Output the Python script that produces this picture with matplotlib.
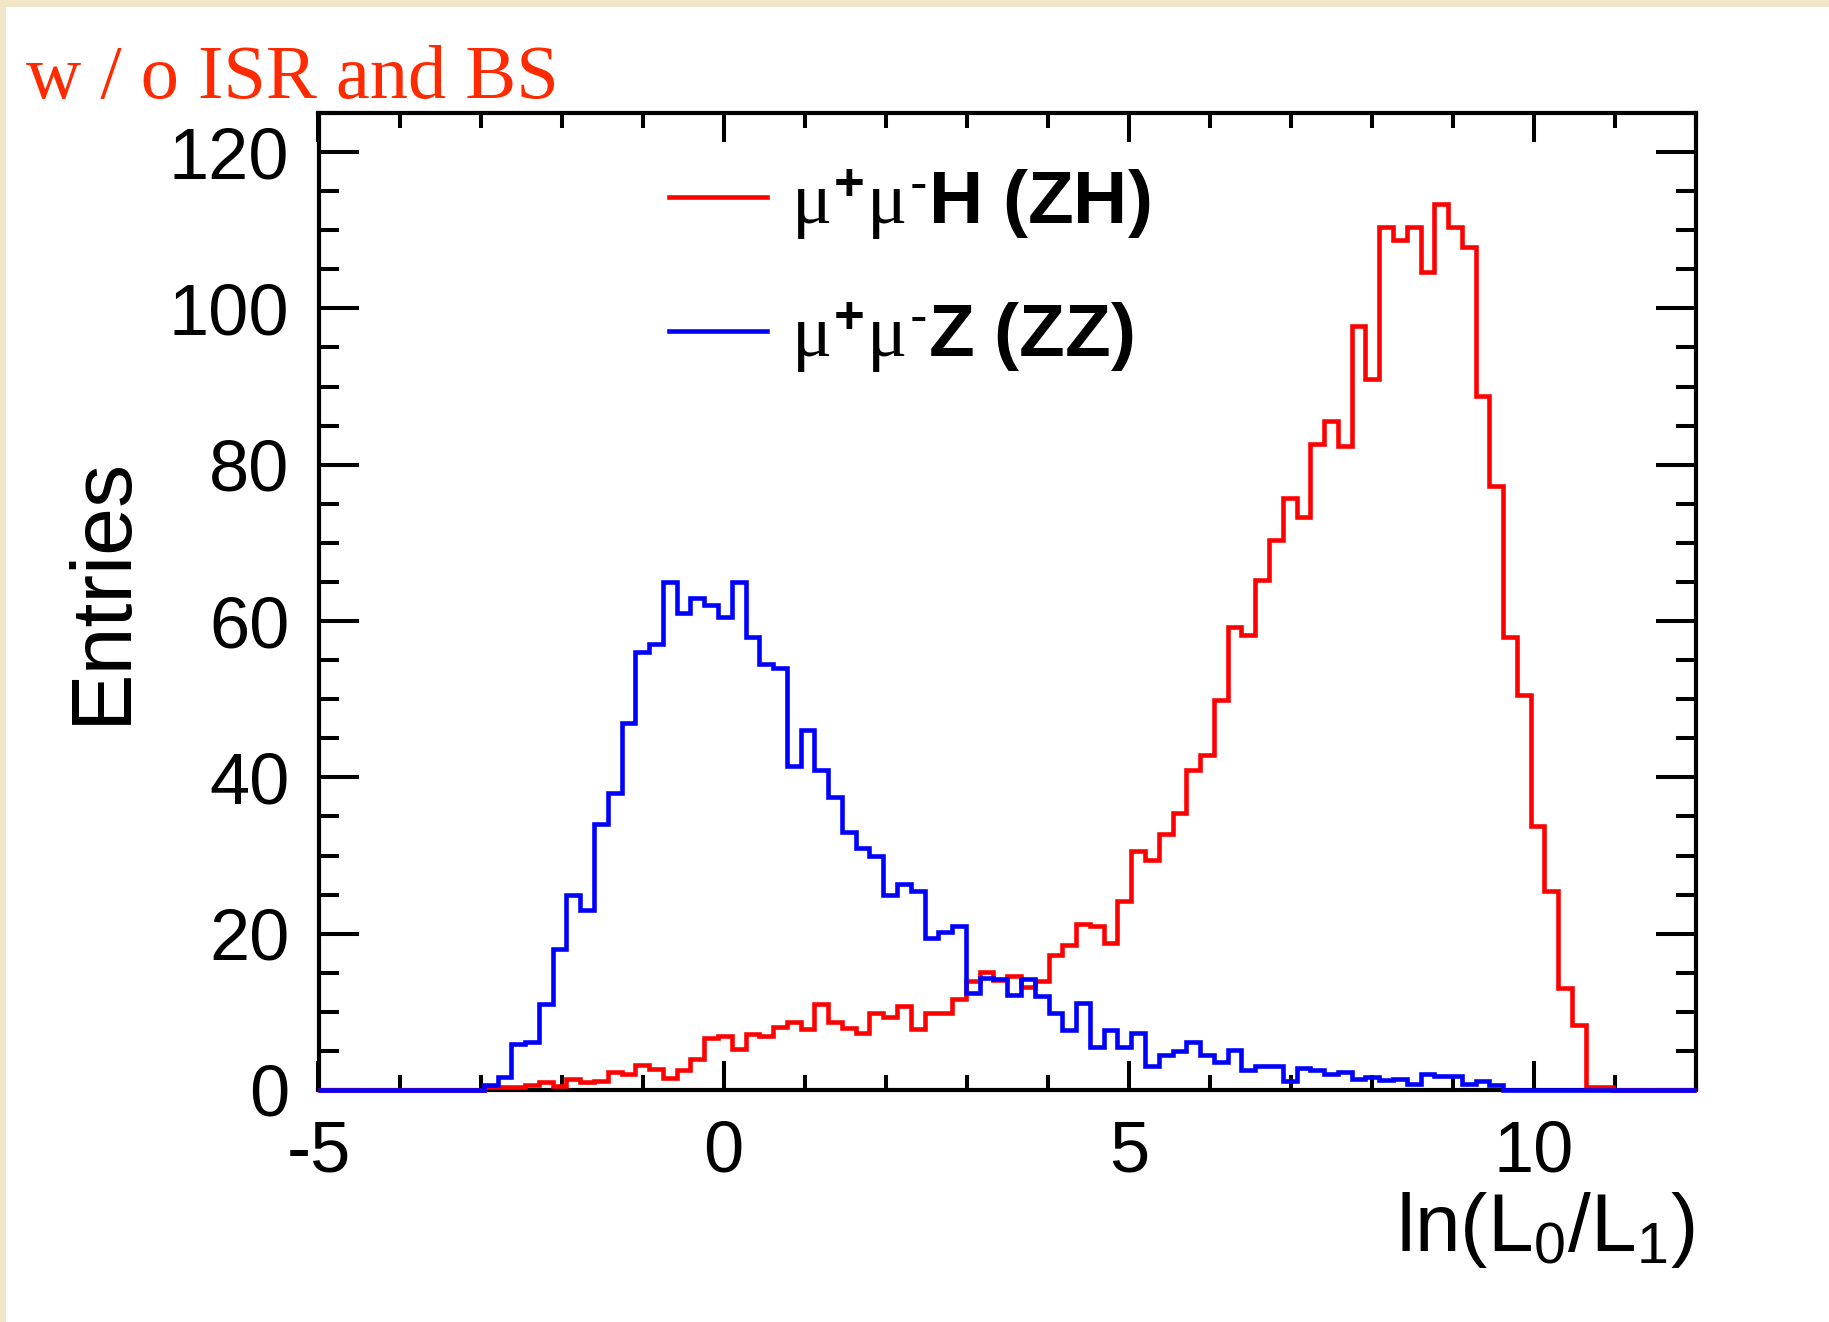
import numpy as np
import matplotlib
matplotlib.use("Agg")
import matplotlib.pyplot as plt
from matplotlib.patches import Rectangle
from matplotlib.ticker import MultipleLocator

# ---- data: 100 bins from -5 to 12 ----
x_min, x_max, n_bins = -5.0, 12.0, 100

zh_values = [0]*12 + [
    0.4, 0.4, 0.4, 0.6, 1.0, 0.5, 1.4, 1.0, 1.2, 2.3,      # 12-21
    2.1, 3.2, 2.7, 1.5, 2.5, 4.0, 6.7, 6.9, 5.3, 7.2,      # 22-31
    6.9, 8.1, 8.7, 7.8, 11.0, 8.7, 7.9, 7.3, 9.8, 9.3,     # 32-41
    10.7, 7.8, 9.8, 9.9, 11.6, 13.9, 15.1, 14.1, 14.6, 13.2,  # 42-51
    13.9, 17.3, 18.5, 21.3, 21.0, 18.8, 24.2, 30.6, 29.4, 32.8,  # 52-61
    35.4, 40.9, 42.9, 49.9, 59.2, 58.2, 65.2, 70.4, 75.8, 73.3,  # 62-71
    82.7, 85.6, 82.4, 97.7, 91.0, 110.4, 108.7, 110.4, 104.7, 113.4,  # 72-81
    110.4, 107.9, 88.8, 77.3, 58.0, 50.5, 33.8, 25.5, 13.1, 8.3,  # 82-91
    0.4, 0.4] + [0]*6

zz_values = [0]*12 + [
    0.7, 1.6, 5.9, 6.2, 11.0, 18.0, 25.0, 23.0, 34.0, 38.0,   # 12-21
    47.0, 56.0, 57.0, 65.0, 61.0, 63.0, 62.0, 60.5, 65.0, 58.0,  # 22-31
    54.5, 54.0, 41.5, 46.0, 41.0, 37.5, 33.0, 31.0, 30.0, 25.0,  # 32-41
    26.3, 25.5, 19.5, 20.2, 21.0, 12.4, 14.3, 14.2, 12.1, 14.2,  # 42-51
    12.0, 9.8, 7.7, 11.1, 5.5, 7.7, 5.5, 7.3, 3.1, 4.5,       # 52-61
    5.0, 6.1, 4.5, 3.6, 5.1, 2.6, 3.1, 3.1, 1.2, 2.8,         # 62-71
    2.5, 2.0, 2.3, 1.4, 1.7, 1.3, 1.4, 0.8, 2.0, 1.8,         # 72-81
    1.8, 0.8, 1.2, 0.6] + [0]*14

labels = [r'$\mu^{\mathbf{+}}\mu^{\mathbf{\text{-}}}\mathbf{H\ (ZH)}$',
          r'$\mu^{\mathbf{+}}\mu^{\mathbf{\text{-}}}\mathbf{Z\ (ZZ)}$']
title_text = "w / o ISR and BS"
x_label = r'$\mathrm{ln(L_{0}/L_{1})}$'
y_label = "Entries"
x_ticks = [-5, 0, 5, 10]
y_ticks = [0, 20, 40, 60, 80, 100, 120]

# ---- style ----
plt.rcParams['font.family'] = ['Liberation Sans', 'DejaVu Sans']
plt.rcParams['axes.unicode_minus'] = False
plt.rcParams['mathtext.fontset'] = 'custom'
plt.rcParams['mathtext.rm'] = 'Liberation Sans'
plt.rcParams['mathtext.it'] = 'Liberation Serif'
plt.rcParams['mathtext.bf'] = 'Liberation Sans:bold'

W, H, DPI = 1829, 1322, 100
fig = plt.figure(figsize=(W / DPI, H / DPI), dpi=DPI)
fig.patch.set_facecolor('#F1E7C8')
fig.patches.append(Rectangle((6 / W, 0), 1 - 6 / W, 1 - 7 / H, transform=fig.transFigure,
                             facecolor='white', edgecolor='none', zorder=-10))

left, right, bottom, top = 318.5, 1696, 1090, 113
ax = fig.add_axes([left / W, 1 - bottom / H, (right - left) / W, (bottom - top) / H])

edges = np.linspace(x_min, x_max, n_bins + 1)
h1 = ax.stairs(zh_values, edges, color='#FF0000', linewidth=3.3, baseline=0,
               label=labels[0], zorder=3, clip_on=False)
h2 = ax.stairs(zz_values, edges, color='#0000FF', linewidth=3.3, baseline=0,
               label=labels[1], zorder=4, clip_on=False)

ax.set_xlim(x_min, x_max)
ax.set_ylim(0, 125)
ax.set_xticks(x_ticks)
ax.set_yticks(y_ticks)
ax.xaxis.set_minor_locator(MultipleLocator(1))
ax.yaxis.set_minor_locator(MultipleLocator(5))
for s in ax.spines.values():
    s.set_linewidth(3.0)
ax.tick_params(axis='both', which='both', direction='in', top=True, right=True, width=2.9)
ax.tick_params(axis='x', which='major', length=21, pad=21, labelsize=52)
ax.tick_params(axis='x', which='minor', length=10.5)
ax.tick_params(axis='y', which='major', length=29, pad=21, labelsize=52)
ax.tick_params(axis='y', which='minor', length=14.5)

fig.text(125 / W, 1 - 590 / H, y_label, rotation=90, rotation_mode='anchor',
         ha='center', va='baseline', fontsize=62)
fig.text(1695 / W, 1 - 1251 / H, x_label, ha='right', va='baseline', fontsize=59)
fig.text(26 / W, 1 - 98 / H, title_text, color='#FF2A00', fontsize=55,
         family='Liberation Serif', ha='left', va='baseline')

leg = ax.legend(handles=[h1, h2], loc='upper left', bbox_to_anchor=(0.2545, 0.945),
                frameon=False, fontsize=54, handlelength=1.3, handletextpad=0.33,
                borderpad=0, borderaxespad=0, labelspacing=0.78)

fig.savefig('out.png', dpi=DPI, facecolor=fig.get_facecolor())
